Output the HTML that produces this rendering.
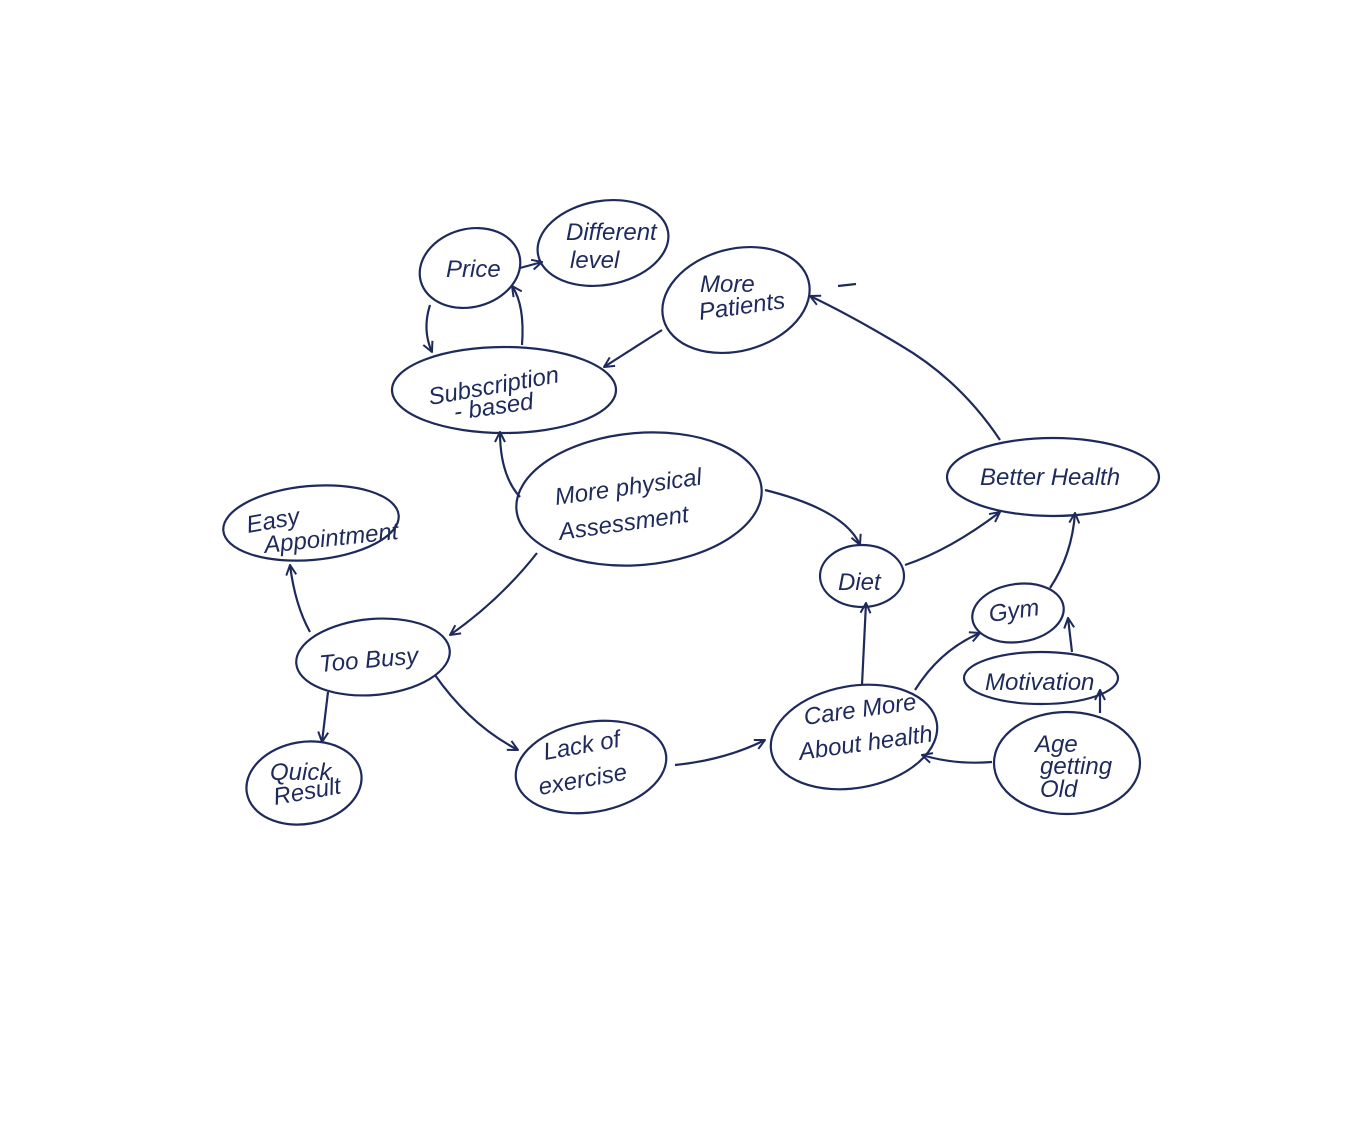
<!DOCTYPE html>
<html><head><meta charset="utf-8"><style>
html,body{margin:0;padding:0;background:#fff;}
svg{display:block;}
text{font-family:"Liberation Sans",sans-serif;font-style:italic;fill:#1f2a5c;font-size:24px;}
</style></head><body>
<svg width="1358" height="1134" viewBox="0 0 1358 1134" xmlns="http://www.w3.org/2000/svg">
<defs>
<marker id="a" viewBox="0 0 12 12" refX="11" refY="6" markerWidth="12" markerHeight="12" markerUnits="userSpaceOnUse" orient="auto">
<path d="M1,1 L11,6 L1,11" fill="none" stroke="#1f2a5c" stroke-width="2"/>
</marker>
</defs>
<g fill="none" stroke="#1f2a5c" stroke-width="2.2">
<ellipse cx="470" cy="268" rx="51" ry="39" transform="rotate(-15 470 268)"/>
<ellipse cx="603" cy="243" rx="66" ry="42" transform="rotate(-10 603 243)"/>
<ellipse cx="736" cy="300" rx="75" ry="51" transform="rotate(-15 736 300)"/>
<ellipse cx="504" cy="390" rx="112" ry="43"/>
<ellipse cx="639" cy="499" rx="123" ry="66" transform="rotate(-5 639 499)"/>
<ellipse cx="1053" cy="477" rx="106" ry="39"/>
<ellipse cx="311" cy="523" rx="88" ry="37" transform="rotate(-5 311 523)"/>
<ellipse cx="862" cy="576" rx="42" ry="31"/>
<ellipse cx="1018" cy="613" rx="46" ry="29" transform="rotate(-8 1018 613)"/>
<ellipse cx="1041" cy="678" rx="77" ry="26"/>
<ellipse cx="373" cy="657" rx="77" ry="38" transform="rotate(-5 373 657)"/>
<ellipse cx="854" cy="737" rx="84" ry="51" transform="rotate(-10 854 737)"/>
<ellipse cx="1067" cy="763" rx="73" ry="51"/>
<ellipse cx="304" cy="783" rx="58" ry="41" transform="rotate(-10 304 783)"/>
<ellipse cx="591" cy="767" rx="76" ry="45" transform="rotate(-10 591 767)"/>

<path d="M520,268 L542,262" marker-end="url(#a)"/>
<path d="M430,305 Q422,330 432,352" marker-end="url(#a)"/>
<path d="M522,345 Q525,305 512,286" marker-end="url(#a)"/>
<path d="M662,330 L604,367" marker-end="url(#a)"/>
<path d="M1000,440 Q960,380 900,345 Q850,315 810,296" marker-end="url(#a)"/>
<path d="M838,286 L856,284"/>
<path d="M520,497 Q500,475 500,432" marker-end="url(#a)"/>
<path d="M765,490 Q845,510 860,545" marker-end="url(#a)"/>
<path d="M905,565 Q950,550 1000,512" marker-end="url(#a)"/>
<path d="M537,553 Q500,600 450,635" marker-end="url(#a)"/>
<path d="M310,632 Q295,605 290,565" marker-end="url(#a)"/>
<path d="M328,692 L322,742" marker-end="url(#a)"/>
<path d="M435,675 Q470,725 518,750" marker-end="url(#a)"/>
<path d="M675,765 Q725,760 765,740" marker-end="url(#a)"/>
<path d="M862,685 L866,603" marker-end="url(#a)"/>
<path d="M915,690 Q940,650 980,633" marker-end="url(#a)"/>
<path d="M1050,588 Q1072,555 1075,513" marker-end="url(#a)"/>
<path d="M1072,652 L1068,618" marker-end="url(#a)"/>
<path d="M1100,713 L1100,690" marker-end="url(#a)"/>
<path d="M992,762 Q955,765 922,755" marker-end="url(#a)"/>
</g>
<text x="446" y="277">Price</text>
<text x="566" y="240" font-size="22">Different</text>
<text x="570" y="268" font-size="22">level</text>
<text x="700" y="292">More</text>
<text x="700" y="320" transform="rotate(-8 700 320)">Patients</text>
<text x="430" y="405" transform="rotate(-10 430 405)">Subscription</text>
<text x="455" y="420" transform="rotate(-8 455 420)">- based</text>
<text x="556" y="505" font-size="26" transform="rotate(-8 556 505)">More physical</text>
<text x="560" y="540" font-size="26" transform="rotate(-8 560 540)">Assessment</text>
<text x="980" y="485" font-size="22">Better Health</text>
<text x="248" y="533" font-size="20" transform="rotate(-10 248 533)">Easy</text>
<text x="265" y="553" font-size="20" transform="rotate(-6 265 553)">Appointment</text>
<text x="838" y="590">Diet</text>
<text x="990" y="622" transform="rotate(-8 990 622)">Gym</text>
<text x="985" y="690" font-size="22">Motivation</text>
<text x="320" y="672" transform="rotate(-5 320 672)">Too Busy</text>
<text x="805" y="725" font-size="22" transform="rotate(-8 805 725)">Care More</text>
<text x="800" y="760" font-size="22" transform="rotate(-8 800 760)">About health</text>
<text x="1035" y="752" font-size="22">Age</text>
<text x="1040" y="774" font-size="22">getting</text>
<text x="1040" y="797" font-size="22">Old</text>
<text x="270" y="780" font-size="22">Quick</text>
<text x="275" y="805" font-size="22" transform="rotate(-10 275 805)">Result</text>
<text x="545" y="760" font-size="22" transform="rotate(-10 545 760)">Lack of</text>
<text x="540" y="795" font-size="22" transform="rotate(-10 540 795)">exercise</text>
</svg>
</body></html>
